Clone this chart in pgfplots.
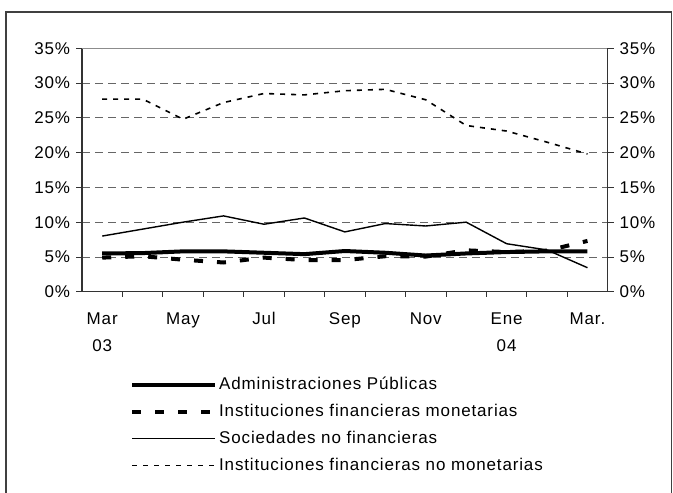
\documentclass[border=0pt]{standalone}
\usepackage{fontspec}
\setmainfont{Liberation Sans}[LetterSpace=5]
\usepackage{pgfplots}
\usepackage{pgfplotstable}
\pgfplotsset{compat=1.18}

\pgfplotstableread{
x ap ifm snf ifnm
0 5.5 4.9 8.0 27.7
1 5.55 5.1 9.0 27.7
2 5.8 4.6 10.0 24.8
3 5.8 4.2 10.9 27.2
4 5.6 4.9 9.7 28.5
5 5.4 4.55 10.6 28.3
6 5.85 4.55 8.6 28.9
7 5.6 5.1 9.8 29.1
8 5.2 5.05 9.45 27.6
9 5.5 5.95 10.0 23.9
10 5.7 5.7 6.9 23.1
11 5.8 5.9 6.0 21.5
12 5.8 7.3 3.45 19.8
}\datatable

\begin{document}
\begin{tikzpicture}
\fontsize{17bp}{20bp}\selectfont
\useasboundingbox (0,0) rectangle (673bp,493bp);
\draw[line width=1.3bp, black!75] (6bp,0) -- (6bp,481bp) -- (671.5bp,481bp) -- (671.5bp,0);
\begin{axis}[
  scale only axis,
  width=525.7bp, height=243.4bp,
  at={(82bp,201.3bp)}, anchor=south west,
  xmin=-0.5, xmax=12.5, ymin=0, ymax=35,
  xtick={0,2,...,12},
  xticklabels={Mar\\03,May,Jul,Sep,Nov,Ene\\04,Mar.},
  xticklabel style={align=center, font=\fontsize{17bp}{27bp}\selectfont, yshift=-9bp},
  major x tick style={draw=none},
  minor xtick={0.5,1.5,...,11.5},
  minor tick length=5bp,
  major tick length=6bp,
  tick align=outside,
  xtick pos=left,
  ytick={0,5,...,35},
  yticklabels={0\%,5\%,10\%,15\%,20\%,25\%,30\%,35\%},
  ytick pos=both,
  yticklabel pos=left,
  tick style={black!80, line width=0.8bp},
  ymajorgrids,
  grid style={black!60, line width=0.7bp, dash pattern=on 8bp off 5bp},
  axis line style={black!80, line width=1.2bp},
  legend style={draw=none, fill=none, at={(0.0913,-0.343)}, anchor=north west,
    row sep=8bp, inner sep=0pt, font=\fontsize{17bp}{20bp}\selectfont},
  legend cell align=left,
  legend image code/.code={\draw[#1] (0bp,0bp) -- (83bp,0bp);},
]
\addplot[black, line width=4bp, line join=round] table[x=x, y=ap] {\datatable};
\addlegendentry{Administraciones Públicas}
\addplot[black, line width=4bp, dash pattern=on 9bp off 14bp] table[x=x, y=ifm] {\datatable};
\addlegendentry{Instituciones financieras monetarias}
\addplot[black, line width=1.4bp] table[x=x, y=snf] {\datatable};
\addlegendentry{Sociedades no financieras}
\addplot[black, line width=1.6bp, dash pattern=on 5bp off 6bp] table[x=x, y=ifnm] {\datatable};
\addlegendentry{Instituciones financieras no monetarias}
\draw[black!45, line width=1.4bp] (rel axis cs:0,1) -- (rel axis cs:1,1);
\end{axis}
\begin{axis}[
  scale only axis,
  width=525.7bp, height=243.4bp,
  at={(82bp,201.3bp)}, anchor=south west,
  xmin=-0.5, xmax=12.5, ymin=0, ymax=35,
  axis x line=none,
  axis y line*=right,
  ytick={0,5,...,35},
  yticklabels={0\%,5\%,10\%,15\%,20\%,25\%,30\%,35\%},
  major tick length=6bp,
  tick align=outside,
  tick style={black!80, line width=0.8bp},
  axis line style={black!80, line width=1.2bp},
]
\end{axis}
\end{tikzpicture}
\end{document}
